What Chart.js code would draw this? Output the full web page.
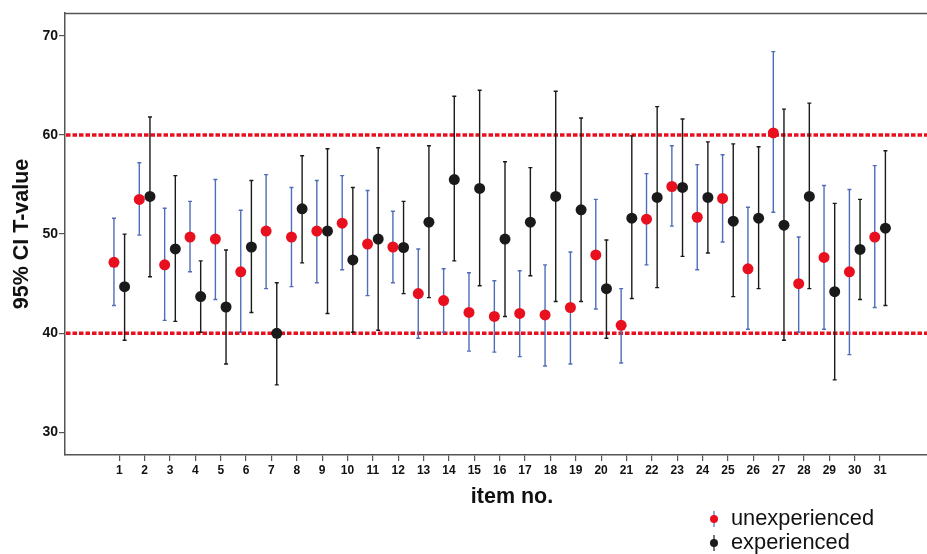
<!DOCTYPE html>
<html>
<head>
<meta charset="utf-8">
<script src="https://cdn.jsdelivr.net/npm/chart.js@4/dist/chart.umd.min.js"></script>
<style>
html,body{margin:0;padding:0;background:#fff;}
canvas{display:block;}
</style>
</head>
<body>
<canvas id="c" width="927" height="554"></canvas>
<script>
// ---- data ----
const items = [1,2,3,4,5,6,7,8,9,10,11,12,13,14,15,16,17,18,19,20,21,22,23,24,25,26,27,28,29,30,31];
const unexpMean = [47.15,53.5,46.9,49.7,49.5,46.2,50.3,49.7,50.3,51.1,49.0,48.7,44.0,43.3,42.1,41.7,42.0,41.85,42.6,47.9,40.8,51.5,54.8,51.7,53.6,46.5,60.2,45.0,47.65,46.2,49.7];
const unexpLow  = [42.8,49.9,41.3,46.2,43.4,40.1,44.5,44.7,45.1,46.4,43.8,45.1,39.5,40.1,38.2,38.1,37.65,36.7,36.9,42.45,37.0,46.9,50.8,46.4,49.2,40.4,52.2,40.1,40.4,37.85,42.6];
const unexpHigh = [51.6,57.2,52.6,53.3,55.5,52.4,56.0,54.7,55.4,55.9,54.4,52.3,48.5,46.5,46.1,45.3,46.3,46.9,48.2,53.5,44.5,56.1,58.9,57.0,58.0,52.7,68.4,49.7,54.9,54.5,56.9];
const expMean   = [44.7,53.8,48.5,43.7,42.65,48.7,40.0,52.55,50.3,47.4,49.5,48.65,51.2,55.5,54.6,49.5,51.2,53.8,52.45,44.5,51.6,53.7,54.7,53.7,51.3,51.6,50.9,53.8,44.2,48.45,50.6];
const expLow    = [39.3,45.7,41.2,40.1,36.9,42.1,34.8,47.1,42.0,40.1,40.3,44.0,43.6,47.3,44.8,41.7,45.8,43.2,43.2,39.5,43.5,44.6,47.75,48.1,43.7,44.5,39.3,44.5,35.3,43.4,42.8];
const expHigh   = [50.0,61.8,55.9,47.3,48.4,55.4,45.1,57.9,58.6,54.7,58.7,53.3,58.9,63.9,64.5,57.3,56.7,64.4,61.7,49.4,59.9,62.85,61.6,59.3,59.1,58.8,62.6,63.2,53.1,53.5,58.4];
const refLines  = [40, 60];
const yTicks    = [30, 40, 50, 60, 70];
const seriesNames = ['unexperienced', 'experienced'];

// ---- styles ----
const RED = '#e8101e', BLUE = '#4f6db8', BLACK = '#1a1a1a', FRAME = '#555555';
const OFF = 0.21;

const ds = [
  {label: seriesNames[0], mean: unexpMean, lo: unexpLow, hi: unexpHigh, off: -OFF, fill: RED, bar: BLUE},
  {label: seriesNames[1], mean: expMean, lo: expLow, hi: expHigh, off: OFF, fill: BLACK, bar: BLACK}
];

const errPlugin = {
  id: 'errbars',
  beforeDatasetsDraw(chart) {
    const {ctx, chartArea: a, scales: {x, y}} = chart;
    ctx.save();
    // top frame line
    ctx.strokeStyle = FRAME; ctx.lineWidth = 1.5;
    ctx.beginPath(); ctx.moveTo(a.left, a.top + 0.5); ctx.lineTo(a.right, a.top + 0.5); ctx.stroke();
    // reference dotted lines
    ctx.strokeStyle = RED; ctx.lineWidth = 3.5; ctx.setLineDash([4.5, 2]);
    refLines.forEach(v => {
      const py = y.getPixelForValue(v);
      ctx.beginPath(); ctx.moveTo(a.left + 1, py); ctx.lineTo(a.right, py); ctx.stroke();
    });
    ctx.setLineDash([]);
    // error bars
    ds.forEach(d => {
      ctx.strokeStyle = d.bar; ctx.lineWidth = 1.4;
      items.forEach((it, i) => {
        const px = x.getPixelForValue(it + d.off);
        const y1 = y.getPixelForValue(d.lo[i]), y2 = y.getPixelForValue(d.hi[i]);
        ctx.beginPath();
        ctx.moveTo(px, y1); ctx.lineTo(px, y2);
        ctx.moveTo(px - 2, y1); ctx.lineTo(px + 2, y1);
        ctx.moveTo(px - 2, y2); ctx.lineTo(px + 2, y2);
        ctx.stroke();
      });
    });
    ctx.restore();
  },
  afterDraw(chart) {
    const {ctx} = chart;
    ctx.save();
    // x axis title
    ctx.fillStyle = '#111';
    ctx.font = 'bold 21.5px "Liberation Sans", Arial, sans-serif';
    ctx.textAlign = 'center'; ctx.textBaseline = 'middle';
    ctx.fillText('item no.', 512, 497);
    // legend
    ctx.font = '21.8px "Liberation Sans", Arial, sans-serif';
    ctx.textAlign = 'left';
    ds.forEach((d, k) => {
      const cy = 519 + k * 24;
      ctx.strokeStyle = d.bar; ctx.lineWidth = 1.2;
      ctx.beginPath(); ctx.moveTo(714, cy - 8); ctx.lineTo(714, cy + 8); ctx.stroke();
      ctx.fillStyle = d.fill;
      ctx.beginPath(); ctx.arc(714, cy, 4, 0, Math.PI * 2); ctx.fill();
      ctx.fillStyle = '#111';
      ctx.fillText(d.label, 731, cy);
    });
    ctx.restore();
  }
};

new Chart(document.getElementById('c'), {
  type: 'scatter',
  data: {
    datasets: ds.map(d => ({
      label: d.label,
      data: items.map((it, i) => ({x: it + d.off, y: d.mean[i]})),
      backgroundColor: d.fill,
      borderColor: d.fill,
      borderWidth: 0,
      pointRadius: 5.5,
      pointHoverRadius: 5.5
    }))
  },
  options: {
    responsive: false,
    animation: false,
    devicePixelRatio: 1,
    layout: {autoPadding: false, padding: {top: 13, right: 0, left: 0, bottom: 0}},
    plugins: {legend: {display: false}, tooltip: {enabled: false}},
    scales: {
      x: {
        type: 'linear', min: -1.14, max: 32.85,
        afterFit: s => { s.height = 99; },
        afterBuildTicks: s => { s.ticks = items.map(v => ({value: v})); },
        grid: {drawOnChartArea: false, drawTicks: true, tickLength: 6, color: FRAME, lineWidth: 1.2},
        border: {color: FRAME, width: 1.5},
        ticks: {
          autoSkip: false, maxRotation: 0, padding: 2, color: '#111',
          font: {family: '"Liberation Sans Narrow", "Liberation Sans", Arial, sans-serif', size: 12, weight: 'bold'},
          callback: v => String(v)
        }
      },
      y: {
        min: 27.73, max: 72.29,
        afterFit: s => { s.width = 65; },
        afterBuildTicks: s => { s.ticks = yTicks.map(v => ({value: v})); },
        grid: {drawOnChartArea: false, drawTicks: true, tickLength: 6, color: FRAME, lineWidth: 1.2},
        border: {color: FRAME, width: 1.5},
        ticks: {
          padding: 1, color: '#111',
          font: {family: '"Liberation Sans", Arial, sans-serif', size: 14, weight: 'bold'}
        },
        title: {
          display: true, text: '95% CI T-value', color: '#111', padding: {top: 9, bottom: 0},
          font: {family: '"Liberation Sans", Arial, sans-serif', size: 21.5, weight: 'bold'}
        }
      }
    }
  },
  plugins: [errPlugin]
});
</script>
</body>
</html>
